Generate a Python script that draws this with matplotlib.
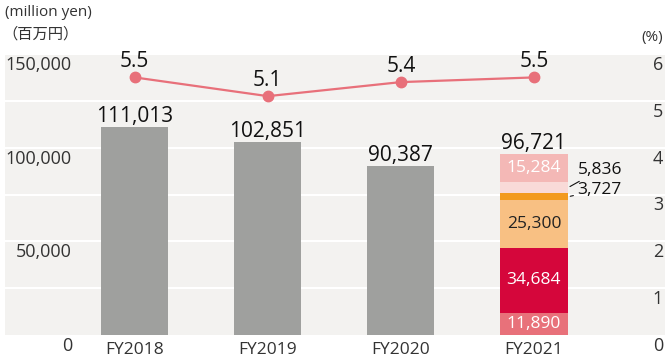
import matplotlib
matplotlib.use("Agg")
import matplotlib.pyplot as plt
import numpy as np

plt.rcParams["font.family"] = ["Open Sans", "Noto Sans CJK JP", "DejaVu Sans"]

YEARS = ["FY2018", "FY2019", "FY2020", "FY2021"]
SALES = [111013, 102851, 90387, 96721]        # million yen
RATIO = [5.5, 5.1, 5.4, 5.5]                  # %

# FY2021 breakdown, bottom to top
SEG_VALUES = [11890, 34684, 25300, 3727, 5836, 15284]
SEG_COLORS = ["#e8717a", "#d5063b", "#f8c083", "#f39a1f", "#f9dad8", "#f4b8b6"]
SEG_TEXT = ["white", "white", "#222222", None, None, "white"]

LEFT_TICKS = [0, 50000, 100000, 150000]
RIGHT_TICKS = [0, 1, 2, 3, 4, 5, 6]

INK = "#111111"
GREY_TXT = "#333333"
BG = "#f3f2f0"

fig = plt.figure(figsize=(6.66, 3.63), dpi=100)
ax = fig.add_axes([5 / 666, 28 / 363, 660 / 666, 281 / 363])
ax.set_facecolor(BG)
ax.set_xlim(-0.975, 3.985)
ax.set_ylim(0, 150000)
for s in ax.spines.values():
    s.set_visible(False)
ax.set_xticks([])
ax.set_yticks([])

# white bands every 25,000
for g in np.arange(25000, 150001, 25000):
    ax.axhline(g, color="white", lw=1.5, zorder=1)

x = np.arange(len(YEARS))
w = 0.505

ax.bar(x[:3], SALES[:3], width=w, color="#9fa09e", zorder=2)
for xi, v in zip(x[:3], SALES[:3]):
    ax.annotate(f"{v:,}", (xi, v), xytext=(0, 0), textcoords="offset points",
                ha="center", va="bottom", fontsize=15, color=INK,
                fontweight="medium")

bottom = 0
for v, c, tc in zip(SEG_VALUES, SEG_COLORS, SEG_TEXT):
    ax.bar(x[3], v, width=w, bottom=bottom, color=c, zorder=2)
    if tc is not None:
        ax.text(x[3], bottom + v / 2, f"{v:,}", ha="center", va="center",
                fontsize=12.5, color=tc, zorder=3)
    bottom += v

# small segments labelled outside with leader lines
cum = np.cumsum([0] + SEG_VALUES)
for idx, dy in [(3, 7), (4, 18)]:
    mid = (cum[idx] + cum[idx + 1]) / 2
    ax.annotate(f"{SEG_VALUES[idx]:,}", (x[3] + w / 2, mid),
                xytext=(10, dy), textcoords="offset pixels",
                ha="left", va="center", fontsize=12.5, color=INK,
                arrowprops=dict(arrowstyle="-", color=INK, lw=0.8,
                                shrinkA=1, shrinkB=2))

ax.annotate(f"{SALES[3]:,}", (x[3], sum(SEG_VALUES)), xytext=(0, 0),
            textcoords="offset points", ha="center", va="bottom",
            fontsize=15, color=INK, fontweight="medium")

# ratio line on the right axis
ax2 = ax.twinx()
ax2.set_ylim(0, 6)
ax2.set_yticks([])
for s in ax2.spines.values():
    s.set_visible(False)
ax2.plot(x, RATIO, color="#e8707a", lw=1.6, marker="o", ms=7.5, zorder=4)
for xi, r in zip(x, RATIO):
    ax2.annotate(f"{r:.1f}", (xi, r), xytext=(0, 4), textcoords="offset points",
                 ha="center", va="bottom", fontsize=15, color=INK,
                 fontweight="medium")

# axis labels drawn inside the band, just under each gridline
for t in LEFT_TICKS:
    ax.annotate(f"{t:,}", (0.1015, t), xycoords=("axes fraction", "data"),
                xytext=(0, -11), textcoords="offset pixels",
                ha="right", va="center", fontsize=13, color=GREY_TXT,
                annotation_clip=False)
for t in RIGHT_TICKS:
    ax2.annotate(f"{t}", (0.997, t), xycoords=("axes fraction", "data"),
                 xytext=(0, -11), textcoords="offset pixels",
                 ha="right", va="center", fontsize=13, color=GREY_TXT,
                 annotation_clip=False)

for xi, lab in zip(x, YEARS):
    ax.annotate(lab, (xi, 0), xytext=(0, -15), textcoords="offset pixels",
                ha="center", va="center", fontsize=12.5, color=GREY_TXT,
                annotation_clip=False)

fig.text(5 / 666, 1 - 12 / 363, "(million yen)", ha="left", va="center",
         fontsize=11, color=GREY_TXT)
fig.text(2 / 666, 1 - 35 / 363, "（百万円）", ha="left", va="center",
         fontsize=11, color=GREY_TXT)
fig.text(663 / 666, 1 - 37 / 363, "(%)", ha="right", va="center",
         fontsize=11, color=GREY_TXT)

fig.savefig("out.png", dpi=100)
